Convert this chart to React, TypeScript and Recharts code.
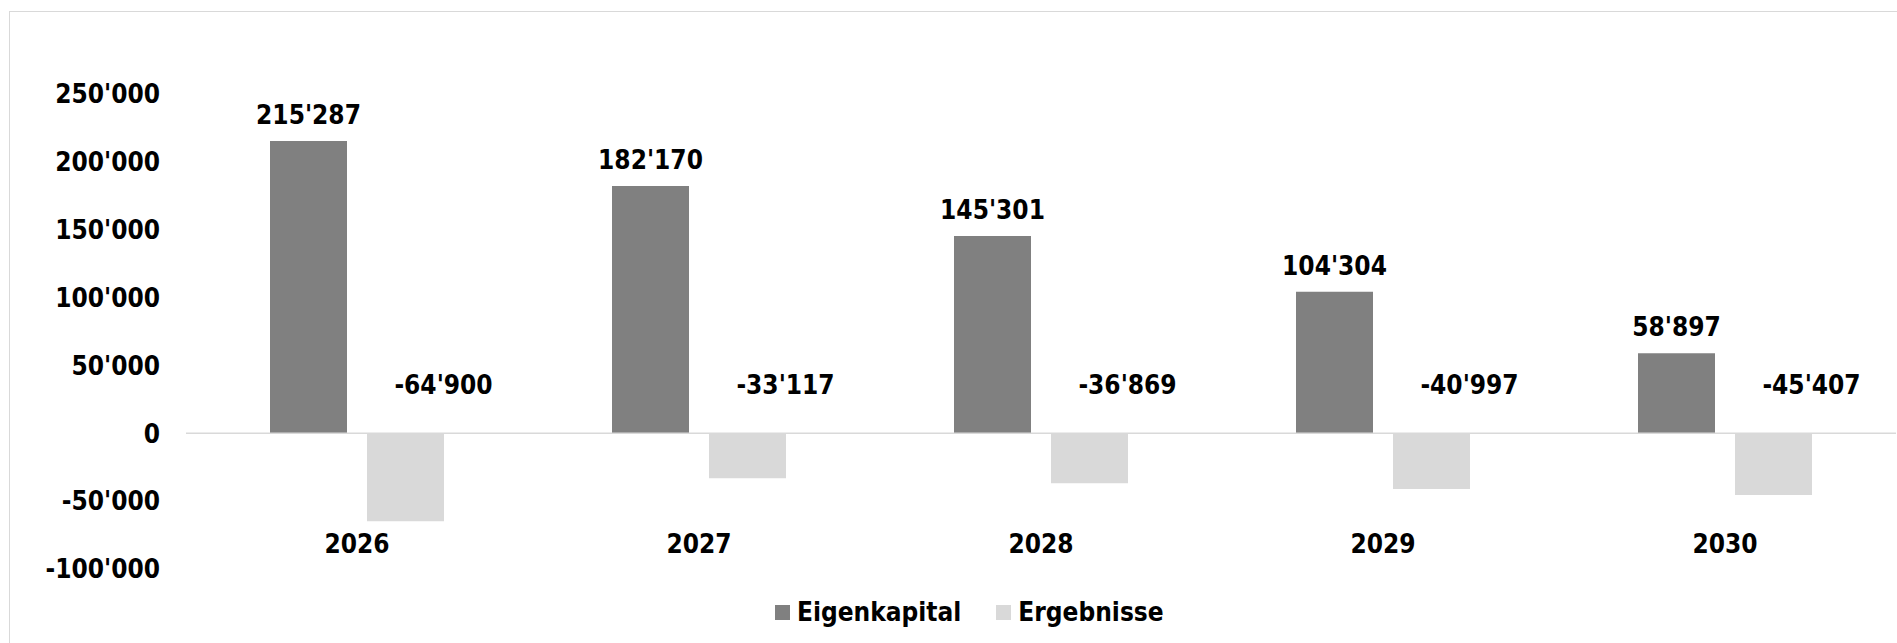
import { BarChart, Bar, XAxis, YAxis, ReferenceLine, LabelList, Legend } from "recharts";

// Jahre und Werte (CHF)
const years = ["2026", "2027", "2028", "2029", "2030"];
const eigenkapital = [215287, 182170, 145301, 104304, 58897];
const ergebnisse = [-64900, -33117, -36869, -40997, -45407];
const yTicks = [-100000, -50000, 0, 50000, 100000, 150000, 200000, 250000];

const data = years.map((year, i) => ({
  year,
  eigenkapital: eigenkapital[i],
  ergebnisse: ergebnisse[i],
}));

const FONT = "'DejaVu Sans Condensed', 'DejaVu Sans', sans-serif";
const textStyle = {
  fontFamily: FONT,
  fontWeight: 700,
  fontSize: 26,
  fontStretch: "condensed",
  fill: "#000",
} as const;

// 1234567 -> 1'234'567
function fmt(v: number) {
  const s = Math.abs(Math.round(v))
    .toString()
    .replace(/\B(?=(\d{3})+(?!\d))/g, "'");
  return v < 0 ? "-" + s : s;
}

function TopLabel(props: any) {
  const { x, y, width, height, value } = props;
  const top = Math.min(Number(y), Number(y) + Number(height));
  return (
    <text x={Number(x) + Number(width) / 2} y={top - 17} textAnchor="middle" style={textStyle}>
      {fmt(value)}
    </text>
  );
}

// negative labels sit above the zero line, shifted right
function NegLabel(props: any) {
  const { x, y, width, height, value } = props;
  const zero = Math.min(Number(y), Number(y) + Number(height));
  return (
    <text x={Number(x) + Number(width) / 2 + 38} y={zero - 39.5} textAnchor="middle" style={textStyle}>
      {fmt(value)}
    </text>
  );
}

function XTick(props: any) {
  const { x, y, payload } = props;
  return (
    <text x={x} y={y - 16.5} textAnchor="middle" style={textStyle}>
      {payload.value}
    </text>
  );
}

function LegendBox(props: any) {
  const items = props.payload || [];
  return (
    <div
      style={{
        display: "flex",
        alignItems: "center",
        fontFamily: FONT,
        fontWeight: 700,
        fontSize: 26,
        fontStretch: "condensed",
        color: "#000",
        whiteSpace: "nowrap",
      }}
    >
      {items.map((it: any, i: number) => (
        <div key={it.value} style={{ display: "flex", alignItems: "center", marginLeft: i ? 35 : 0 }}>
          <span style={{ display: "inline-block", width: 15, height: 15, background: it.color, marginRight: 7 }} />
          <span>{it.value}</span>
        </div>
      ))}
    </div>
  );
}

export default function App() {
  return (
    <div style={{ position: "absolute", left: 0, top: 0, width: 1897, height: 643, overflow: "hidden", background: "#fff" }}>
      {/* chart area border, cut off at right and bottom */}
      <div
        style={{
          position: "absolute",
          left: 9,
          top: 11,
          width: 2000,
          height: 700,
          border: "1px solid #d9d9d9",
        }}
      />
      <div style={{ position: "absolute", left: 0, top: 0 }}>
        <BarChart
          width={1897}
          height={643}
          data={data}
          margin={{ top: 94, right: 1, bottom: 0, left: 0 }}
          barSize={77}
          barGap={20}
        >
          <XAxis
            dataKey="year"
            axisLine={false}
            tickLine={false}
            tickSize={0}
            tickMargin={0}
            height={74}
            interval={0}
            tick={<XTick />}
          />
          <YAxis
            type="number"
            domain={[-100000, 250000]}
            ticks={yTicks}
            interval={0}
            tickFormatter={fmt}
            axisLine={false}
            tickLine={false}
            tickSize={0}
            tickMargin={26}
            width={186}
            tick={textStyle}
          />
          <Legend
            layout="horizontal"
            verticalAlign="middle"
            align="center"
            content={<LegendBox />}
            wrapperStyle={{ left: 775, top: 597, bottom: "auto", width: "auto", height: "auto" }}
          />
          <Bar dataKey="eigenkapital" name="Eigenkapital" fill="#808080" isAnimationActive={false}>
            <LabelList dataKey="eigenkapital" content={<TopLabel />} />
          </Bar>
          <Bar dataKey="ergebnisse" name="Ergebnisse" fill="#d9d9d9" isAnimationActive={false}>
            <LabelList dataKey="ergebnisse" content={<NegLabel />} />
          </Bar>
          <ReferenceLine y={0} stroke="#d9d9d9" strokeWidth={1.5} />
        </BarChart>
      </div>
    </div>
  );
}
